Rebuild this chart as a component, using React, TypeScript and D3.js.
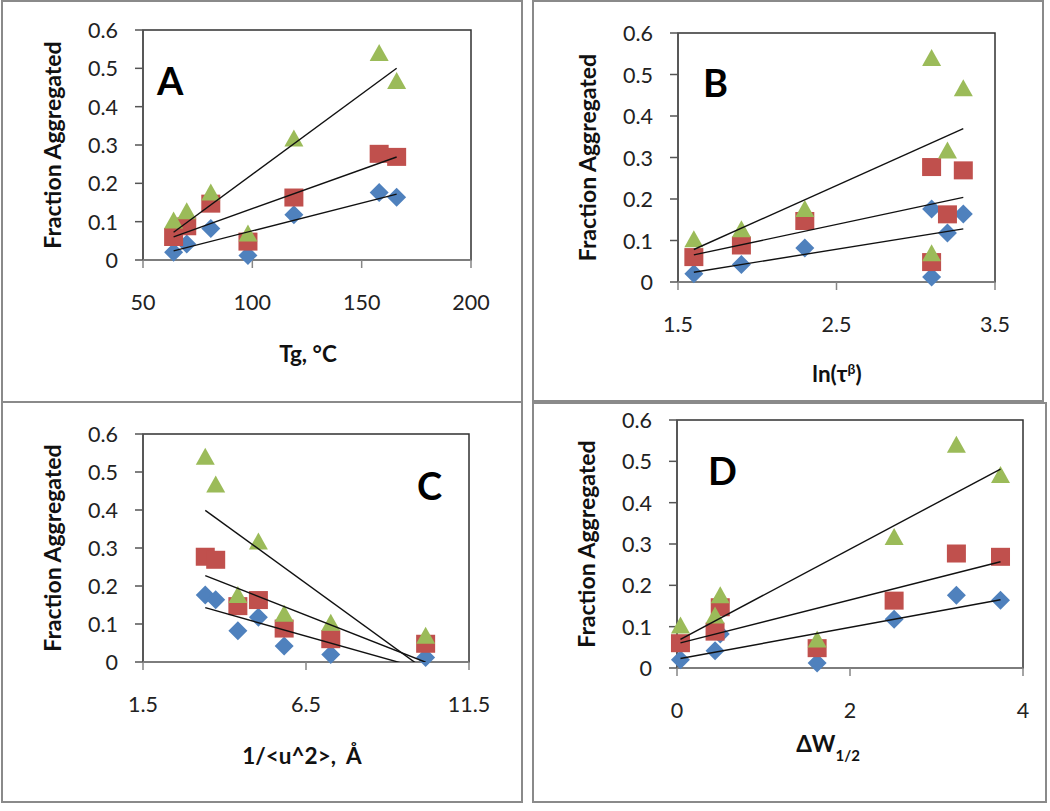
import React from "react";
import * as d3 from "d3";

// sample values, same 7 samples in each panel
const tgValues = [64, 70, 81, 98, 119, 158, 166];
const lnTauValues = [1.6, 1.9, 2.3, 3.1, 3.2, 3.1, 3.3];
const invU2Values = [7.26, 5.83, 4.41, 10.17, 5.04, 3.41, 3.73];
const dW12Values = [0.04, 0.44, 0.5, 1.62, 2.51, 3.23, 3.74];

const blueSeries = [0.02, 0.042, 0.082, 0.012, 0.118, 0.176, 0.164];
const redSeries = [0.06, 0.088, 0.147, 0.048, 0.163, 0.277, 0.269];
const greenSeries = [0.103, 0.127, 0.176, 0.069, 0.317, 0.54, 0.467];

const yTicks = [0, 0.1, 0.2, 0.3, 0.4, 0.5, 0.6];
const tgTicks = [50, 100, 150, 200];
const lnTauTicks = [1.5, 2.5, 3.5];
const invU2Ticks = [1.5, 6.5, 11.5];
const dW12Ticks = [0, 2, 4];

const FONT = "Lato, 'Open Sans', sans-serif";
const BLUE = "#4f81bd";
const RED = "#c0504d";
const GREEN = "#9bbb59";

const panels = [
  {
    id: "A",
    box: [2, 1, 522, 402],
    plot: { l: 143, r: 471, t: 30, b: 260 },
    xs: tgValues,
    xDomain: [50, 200],
    xTicks: tgTicks,
    letter: [157, 95],
    titleX: 308,
    titleY: 362,
    title: <tspan>Tg, °C</tspan>,
  },
  {
    id: "B",
    box: [533, 1, 1043, 401],
    plot: { l: 678, r: 995, t: 33, b: 282 },
    xs: lnTauValues,
    xDomain: [1.5, 3.5],
    xTicks: lnTauTicks,
    letter: [703, 97],
    titleX: 837,
    titleY: 382,
    title: (
      <>
        <tspan>ln(τ</tspan>
        <tspan baselineShift="super" fontSize={14}>β</tspan>
        <tspan>)</tspan>
      </>
    ),
  },
  {
    id: "C",
    box: [2, 402, 522, 802],
    plot: { l: 143, r: 469, t: 434, b: 662 },
    xs: invU2Values,
    xDomain: [1.5, 11.5],
    xTicks: invU2Ticks,
    letter: [417, 500],
    titleX: 302,
    titleY: 764,
    title: <tspan style={{ whiteSpace: "pre" }}>{"1/<u^2>,  Å"}</tspan>,
  },
  {
    id: "D",
    box: [533, 403, 1046, 802],
    plot: { l: 677, r: 1023, t: 420, b: 668 },
    xs: dW12Values,
    xDomain: [0, 4],
    xTicks: dW12Ticks,
    letter: [708, 485],
    titleX: 828,
    titleY: 752,
    title: (
      <>
        <tspan>ΔW</tspan>
        <tspan baselineShift="sub" fontSize={15}>1/2</tspan>
      </>
    ),
  },
];

function fit(xs: number[], ys: number[]) {
  const mx = d3.mean(xs) as number;
  const my = d3.mean(ys) as number;
  const sxy = d3.sum(xs, (x, i) => (x - mx) * (ys[i] - my));
  const sxx = d3.sum(xs, (x) => (x - mx) * (x - mx));
  const k = sxy / sxx;
  return (x: number) => my + k * (x - mx);
}

function Panel({ p }: { p: any }) {
  const { l, r, t, b } = p.plot;
  const x = d3.scaleLinear().domain(p.xDomain).range([l, r]);
  const y = d3.scaleLinear().domain([0, 0.6]).range([b, t]);
  const ext = d3.extent(p.xs as number[]) as [number, number];
  const clipId = "clip" + p.id;

  const series = [
    { vals: blueSeries, color: BLUE, shape: "diamond" },
    { vals: redSeries, color: RED, shape: "square" },
    { vals: greenSeries, color: GREEN, shape: "triangle" },
  ];

  const marker = (shape: string, cx: number, cy: number, color: string, k: number) => {
    if (shape === "square")
      return <rect key={k} x={cx - 9.5} y={cy - 9} width={19} height={18} fill={color} />;
    if (shape === "diamond")
      return (
        <path key={k} d={`M${cx},${cy - 9.5}L${cx + 9.5},${cy}L${cx},${cy + 9.5}L${cx - 9.5},${cy}Z`} fill={color} />
      );
    return (
      <path key={k} d={`M${cx},${cy - 9}L${cx + 9.5},${cy + 8}L${cx - 9.5},${cy + 8}Z`} fill={color} />
    );
  };

  const [bx0, by0, bx1, by1] = p.box;

  return (
    <g>
      <rect x={bx0} y={by0} width={bx1 - bx0} height={by1 - by0} fill="#fff" stroke="#8a8a8a" strokeWidth={2} />
      <defs>
        <clipPath id={clipId}>
          <rect x={l} y={t} width={r - l} height={b - t} />
        </clipPath>
      </defs>
      <rect x={l} y={t} width={r - l} height={b - t} fill="none" stroke="#303030" strokeWidth={1.5} />
      {/* axes */}
      <line x1={l} x2={l} y1={t} y2={b} stroke="#555" strokeWidth={1.5} />
      <line x1={l} x2={r} y1={b} y2={b} stroke="#868686" strokeWidth={1.5} />
      {yTicks.map((v) => (
        <g key={"y" + v}>
          <line x1={l - 8} x2={l} y1={y(v)} y2={y(v)} stroke="#555" strokeWidth={1.5} />
          <text x={l - 25} y={y(v)} textAnchor="end" dominantBaseline="central" fontSize={21.5} fontFamily={FONT} fill="#222">
            {v === 0 ? "0" : String(v)}
          </text>
        </g>
      ))}
      {p.xTicks.map((v: number) => (
        <g key={"x" + v}>
          <line x1={x(v)} x2={x(v)} y1={b} y2={b + 8} stroke="#868686" strokeWidth={1.5} />
          <text x={x(v)} y={b + 42} textAnchor="middle" dominantBaseline="central" fontSize={21.5} fontFamily={FONT} fill="#222">
            {String(v)}
          </text>
        </g>
      ))}
      {/* markers */}
      {series.map((s, si) => (
        <g key={"s" + si}>{s.vals.map((v, i) => marker(s.shape, x(p.xs[i]), y(v), s.color, i))}</g>
      ))}
      {/* trend lines */}
      <g clipPath={`url(#${clipId})`}>
        {series.map((s, si) => {
          const f = fit(p.xs, s.vals);
          return (
            <line
              key={"t" + si}
              x1={x(ext[0])}
              y1={y(f(ext[0]))}
              x2={x(ext[1])}
              y2={y(f(ext[1]))}
              stroke="#111"
              strokeWidth={1.4}
            />
          );
        })}
      </g>
      <text x={p.letter[0]} y={p.letter[1]} fontSize={38} fontWeight="bold" fontFamily={FONT} fill="#000">
        {p.id}
      </text>
      <text
        transform={`translate(${l - 91},${(t + b) / 2}) rotate(-90)`}
        textAnchor="middle"
        dominantBaseline="central"
        fontSize={23}
        fontWeight="bold"
        fontFamily={FONT}
        fill="#111"
      >
        Fraction Aggregated
      </text>
      <text x={p.titleX} y={p.titleY} textAnchor="middle" fontSize={22.5} fontWeight="bold" fontFamily={FONT} fill="#111">
        {p.title}
      </text>
    </g>
  );
}

export default function App() {
  return (
    <svg
      width={1050}
      height={811}
      style={{ position: "absolute", left: 0, top: 0, background: "#fff" }}
    >
      <rect width={1050} height={811} fill="#fff" />
      {panels.map((p) => (
        <Panel key={p.id} p={p} />
      ))}
    </svg>
  );
}
